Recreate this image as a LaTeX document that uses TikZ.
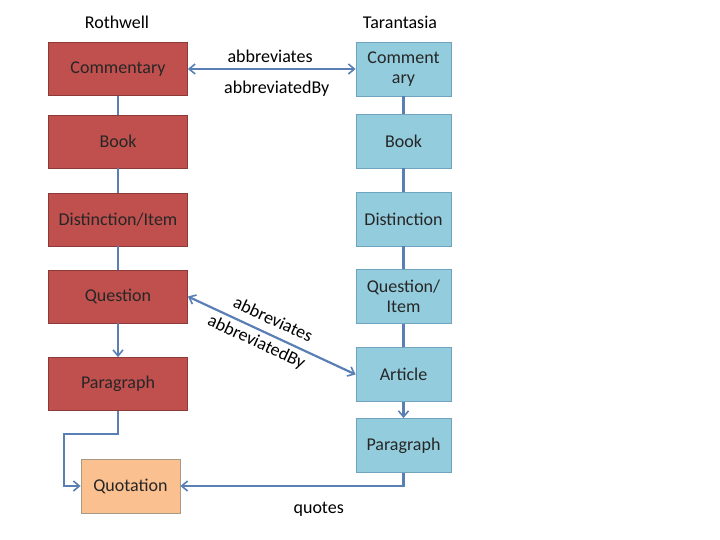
\documentclass[tikz,border=0pt]{standalone}
\usepackage{fontspec}
\setmainfont{Carlito}
\usetikzlibrary{arrows.meta}
\definecolor{redfill}{HTML}{C0504D}
\definecolor{redline}{HTML}{8C3A38}
\definecolor{bluefill}{HTML}{93CDDD}
\definecolor{blueline}{HTML}{6FA3BF}
\definecolor{orfill}{HTML}{FAC090}
\definecolor{orline}{HTML}{A89888}
\definecolor{conncol}{HTML}{5A7FB5}
\tikzset{
  redbox/.style={draw=redline, fill=redfill, line width=0.8pt, minimum width=139pt, minimum height=53pt, inner sep=0pt, font=\fontsize{18}{20}\selectfont, text=black!85},
  bluebox/.style={draw=blueline, fill=bluefill, line width=0.8pt, minimum width=95pt, minimum height=54pt, inner sep=0pt, font=\fontsize{18}{20}\selectfont, text=black!85, align=center},
  orbox/.style={draw=orline, fill=orfill, line width=0.8pt, minimum width=99pt, minimum height=54pt, inner sep=0pt, font=\fontsize{18}{20}\selectfont, text=black!85},
  title/.style={font=\fontsize{18}{20}\selectfont},
  lbl/.style={font=\fontsize{18}{20}\selectfont, inner sep=1pt},
  conn/.style={draw=conncol, line width=2.2pt},
  tip/.style={-{Straight Barb[length=6pt,width=10pt,line width=1.6pt]}},
  tips/.style={{Straight Barb[length=6pt,width=10pt,line width=1.6pt]}-{Straight Barb[length=6pt,width=10pt,line width=1.6pt]}}
}
\begin{document}
\begin{tikzpicture}[x=1pt,y=-1pt]
\useasboundingbox (0,0) rectangle (720,540);
\node[title] (t1) at (117,22) {Rothwell};
\node[title] (t2) at (400,22) {Tarantasia};
% left column
\node[redbox] (lc) at (118,69) {Commentary};
\node[redbox] (lb) at (118,141.5) {Book};
\node[redbox] (ld) at (118,219.5) {Distinction/Item};
\node[redbox] (lq) at (118,296.5) {Question};
\node[redbox] (lp) at (118,384) {Paragraph};
\node[orbox] (quo) at (130.5,486) {Quotation};
% right column
\node[bluebox] (rc) at (403.5,69) {Comment\\ary};
\node[bluebox] (rb) at (403.5,141) {Book};
\node[bluebox] (rd) at (403.5,219) {Distinction};
\node[bluebox] (rq) at (403.5,296.5) {Question/\\Item};
\node[bluebox] (ra) at (403.5,374.5) {Article};
\node[bluebox] (rp) at (403.5,445.5) {Paragraph};
% left connectors
\draw[conn] (lc) -- (lb);
\draw[conn] (lb) -- (ld);
\draw[conn] (ld) -- (lq);
\draw[conn,tip] (lq) -- (lp);
\coordinate (k1) at (64,434);
\draw[conn,tip] (lp.south) |- (k1) |- (quo.west);
% right connectors
\draw[conn] (rc) -- (rb);
\draw[conn] (rb) -- (rd);
\draw[conn] (rd) -- (rq);
\draw[conn] (rq) -- (ra);
\draw[conn,tip] (ra) -- (rp);
\draw[conn,tip] (rp.south) |- (quo.east) node[lbl, pos=0.69, below=14pt] {quotes};
% abbreviations
\draw[conn,tips] (lc.east) -- (rc.west)
  node[lbl, pos=0.49, above=4pt] {abbreviates}
  node[lbl, pos=0.53, below=10pt] {abbreviatedBy};
\draw[conn,tips] (lq.east) -- (ra.west)
  node[lbl, sloped, pos=0.47, above=7pt] {abbreviates}
  node[lbl, sloped, pos=0.44, below=3pt] {abbreviatedBy};
\end{tikzpicture}
\end{document}
